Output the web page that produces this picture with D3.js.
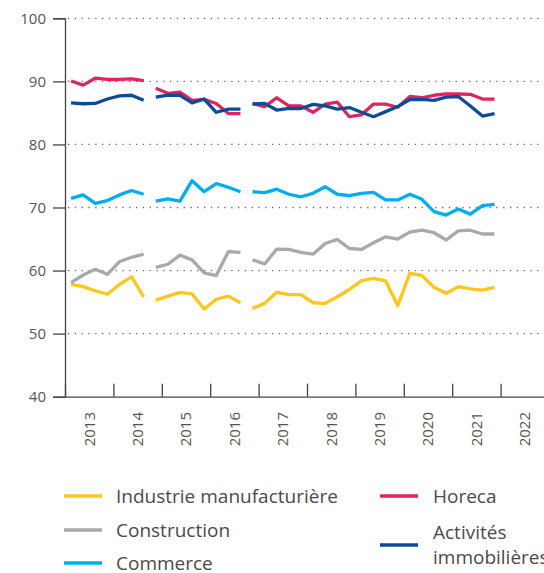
<!DOCTYPE html>
<html><head><meta charset="utf-8">
<script src="https://cdn.jsdelivr.net/npm/d3@7/dist/d3.min.js"></script>
<style>body{margin:0;background:#fff;overflow:hidden}svg{display:block}</style>
</head><body>
<svg id="c" width="544" height="573"></svg>
<script>
// Quarterly data, 2013 Q1 to 2021 Q4 (36 quarters)
const firstYear = 2013;
const segmentStarts = [0, 7, 15]; // line is broken before these quarter indices
const industrie = [57.8,57.45,56.8,56.25,57.8,59.0,55.85, 55.3,55.95,56.55,56.3,53.9,55.45,55.95,54.9, 54.0,54.8,56.55,56.2,56.2,54.9,54.8,55.85,57.0,58.4,58.75,58.35,54.45,59.6,59.2,57.35,56.4,57.45,57.1,56.9,57.35];
const construction = [58.1,59.3,60.2,59.4,61.4,62.1,62.6, 60.5,61.0,62.45,61.7,59.65,59.2,63.0,62.9, 61.7,61.05,63.4,63.35,62.9,62.6,64.3,64.95,63.5,63.35,64.4,65.35,65.0,66.1,66.4,66.0,64.85,66.3,66.4,65.8,65.8];
const commerce = [71.45,72.0,70.65,71.1,72.0,72.7,72.1, 71.0,71.35,71.0,74.25,72.5,73.8,73.2,72.5, 72.5,72.35,72.9,72.1,71.7,72.25,73.3,72.1,71.9,72.25,72.4,71.2,71.2,72.1,71.3,69.35,68.8,69.75,68.95,70.3,70.5];
const horeca = [90.05,89.4,90.5,90.3,90.3,90.4,90.1, 88.9,88.1,88.3,87.0,87.15,86.5,84.9,84.9, 86.5,86.0,87.4,86.1,86.1,85.1,86.4,86.7,84.4,84.7,86.4,86.4,85.9,87.6,87.4,87.8,88.0,88.0,87.95,87.2,87.2];
const immobilier = [86.6,86.45,86.5,87.2,87.7,87.8,87.0, 87.5,87.8,87.8,86.6,87.2,85.1,85.6,85.6, 86.4,86.5,85.45,85.7,85.7,86.35,86.1,85.6,85.85,85.1,84.4,85.2,86.0,87.1,87.15,87.0,87.5,87.6,86.1,84.5,84.9];
const yearLabels = ["2013","2014","2015","2016","2017","2018","2019","2020","2021","2022"];
const yTicks = [40,50,60,70,80,90,100];

const seriesNames = ["Industrie manufacturière","Construction","Commerce","Horeca","Activités immobilières"];
const seriesColors = ["#ffc61e","#a9a9ab","#00aeef","#e0245e","#0b4c96"];
const seriesValues = [industrie, construction, commerce, horeca, immobilier];

const svg = d3.select("#c");
const font = "'Open Sans', 'Noto Sans', sans-serif";
const x = d3.scaleLinear().domain([2013, 2023]).range([65, 549]);
const y = d3.scaleLinear().domain([40, 100]).range([396.7, 18.3]);

// gridlines
svg.append("g").selectAll("line").data(yTicks.filter(d => d > 40)).join("line")
  .attr("x1", 68).attr("x2", 542).attr("y1", d => y(d)).attr("y2", d => y(d))
  .attr("stroke", "#666").attr("stroke-width", 1.3).attr("stroke-dasharray", "1.3,5.5");

// y axis
const ya = svg.append("g").attr("transform", "translate(65,0)")
  .call(d3.axisLeft(y).tickValues(yTicks).tickSize(12).tickPadding(7));
ya.select(".domain").attr("stroke", "#444").attr("stroke-width", 1.3);
ya.selectAll(".tick line").attr("stroke", "#444").attr("stroke-width", 1.3);
ya.selectAll("text").attr("font-family", font).attr("font-size", 15).attr("fill", "#555");

// x axis
const xTickVals = yearLabels.map((d, i) => firstYear + i);
const xa = svg.append("g").attr("transform", `translate(0,${y(40)})`)
  .call(d3.axisBottom(x).tickValues(xTickVals).tickSize(-13).tickSizeOuter(0).tickFormat(""));
xa.select(".domain").attr("stroke", "#444").attr("stroke-width", 1.3);
xa.selectAll(".tick line").attr("stroke", "#444").attr("stroke-width", 1.3);
svg.append("g").selectAll("text").data(yearLabels).join("text")
  .attr("transform", (d, i) => `translate(${x(firstYear + i + 0.5)},412) rotate(-90)`)
  .attr("text-anchor", "end").attr("dy", "0.36em")
  .attr("font-family", font).attr("font-size", 15).attr("fill", "#555")
  .text(d => d);

// lines
const line = d3.line().x(d => x(firstYear + (d.i + 0.5) / 4)).y(d => y(d.v));
const bounds = segmentStarts.concat([industrie.length]);
seriesValues.forEach((vals, s) => {
  for (let k = 0; k < segmentStarts.length; k++) {
    const pts = vals.slice(bounds[k], bounds[k + 1]).map((v, j) => ({ i: bounds[k] + j, v }));
    svg.append("path").datum(pts).attr("d", line).attr("fill", "none")
      .attr("stroke", seriesColors[s]).attr("stroke-width", 3.3).attr("stroke-linejoin", "round");
  }
});

// legend
const leg = [
  { s: 0, lx: 64, ly: 496, tx: 116, lines: [{t: seriesNames[0], y: 496}] },
  { s: 1, lx: 64, ly: 530, tx: 116, lines: [{t: seriesNames[1], y: 530}] },
  { s: 2, lx: 64, ly: 563, tx: 116, lines: [{t: seriesNames[2], y: 563}] },
  { s: 3, lx: 380, ly: 496, tx: 433, lines: [{t: seriesNames[3], y: 496}] },
  { s: 4, lx: 380, ly: 545, tx: 433, lines: [{t: "Activités", y: 532}, {t: "immobilières", y: 557}] }
];
leg.forEach(l => {
  svg.append("line").attr("x1", l.lx).attr("x2", l.lx + 38).attr("y1", l.ly).attr("y2", l.ly)
    .attr("stroke", seriesColors[l.s]).attr("stroke-width", 3.3);
  l.lines.forEach(tl => svg.append("text").attr("x", l.tx).attr("y", tl.y).attr("dy", "0.36em")
    .attr("font-family", font).attr("font-size", 19).attr("fill", "#4a4a4a").text(tl.t));
});
</script>
</body></html>
